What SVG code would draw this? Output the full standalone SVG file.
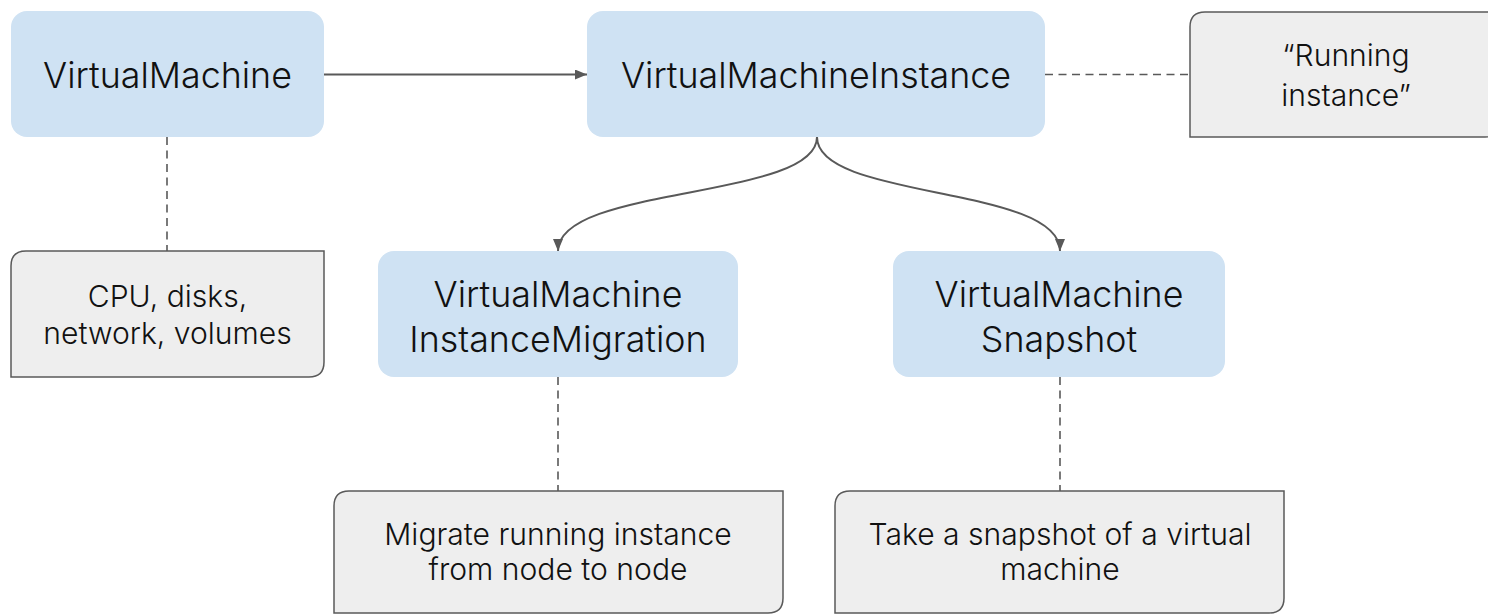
<svg xmlns="http://www.w3.org/2000/svg" width="1488" height="614" viewBox="0 0 1488 614">
  <style>
    .box { fill: #cfe2f3; }
    .note { fill: #eeeeee; stroke: #595959; stroke-width: 1.5; }
    .title { font-family: Inter, "Liberation Sans", sans-serif; font-weight: 300; font-size: 35.8px; fill: #111111; text-anchor: middle; }
    .desc { font-family: Inter, "Liberation Sans", sans-serif; font-weight: 300; font-size: 30.1px; fill: #111111; text-anchor: middle; }
    .link { fill: none; stroke: #595959; stroke-width: 2; }
    .dash { fill: none; stroke: #595959; stroke-width: 1.6; stroke-dasharray: 8 5.5; }
  </style>
  <defs>
    <marker id="arrow" viewBox="0 0 12 10" refX="12" refY="5" markerWidth="12" markerHeight="10" markerUnits="userSpaceOnUse" orient="auto">
      <path d="M0,0 L12,5 L0,10 Z" fill="#595959"/>
    </marker>
  </defs>

  <rect width="1488" height="614" fill="#ffffff"/>

  <!-- connectors -->
  <g id="connectors">
    <line class="link" x1="324" y1="74.5" x2="587" y2="74.5" marker-end="url(#arrow)"/>
    <path class="link" d="M817,137 C817,200 558,185 558,251" marker-end="url(#arrow)"/>
    <path class="link" d="M817,137 C817,200 1060,185 1060,251" marker-end="url(#arrow)"/>
    <line class="dash" x1="1045" y1="74.5" x2="1190" y2="74.5"/>
    <line class="dash" x1="167" y1="137" x2="167" y2="251"/>
    <line class="dash" x1="558" y1="377" x2="558" y2="491"/>
    <line class="dash" x1="1060" y1="377" x2="1060" y2="491"/>
  </g>

  <!-- resources -->
  <g id="vm">
    <rect class="box" x="11" y="11" width="313" height="126" rx="16"/>
    <text class="title" x="167.5" y="88">VirtualMachine</text>
  </g>
  <g id="vmi">
    <rect class="box" x="587" y="11" width="458" height="126" rx="16"/>
    <text class="title" x="816" y="88">VirtualMachineInstance</text>
  </g>
  <g id="vmim">
    <rect class="box" x="378" y="251" width="360" height="126" rx="16"/>
    <text class="title" x="558" y="307">VirtualMachine</text>
    <text class="title" x="558" y="352">InstanceMigration</text>
  </g>
  <g id="vmsnapshot">
    <rect class="box" x="893" y="251" width="332" height="126" rx="16"/>
    <text class="title" x="1059" y="307">VirtualMachine</text>
    <text class="title" x="1059" y="352">Snapshot</text>
  </g>

  <!-- notes: rounded top-left and bottom-right corners -->
  <g id="note-running">
    <path class="note" d="M1205,12 H1500 V122 Q1500,137 1485,137 H1190 V27 Q1190,12 1205,12 Z"/>
    <text class="desc" x="1346" y="66">“Running</text>
    <text class="desc" x="1346" y="106">instance”</text>
  </g>
  <g id="note-spec">
    <path class="note" d="M26,251 H324 V362 Q324,377 309,377 H11 V266 Q11,251 26,251 Z"/>
    <text class="desc" x="167.5" y="307">CPU, disks,</text>
    <text class="desc" x="167.5" y="344">network, volumes</text>
  </g>
  <g id="note-migration">
    <path class="note" d="M349,491 H783 V598 Q783,613 768,613 H334 V506 Q334,491 349,491 Z"/>
    <text class="desc" x="558" y="545">Migrate running instance</text>
    <text class="desc" x="558" y="580">from node to node</text>
  </g>
  <g id="note-snapshot">
    <path class="note" d="M850,491 H1284 V598 Q1284,613 1269,613 H835 V506 Q835,491 850,491 Z"/>
    <text class="desc" x="1060" y="545">Take a snapshot of a virtual</text>
    <text class="desc" x="1060" y="580">machine</text>
  </g>
</svg>
